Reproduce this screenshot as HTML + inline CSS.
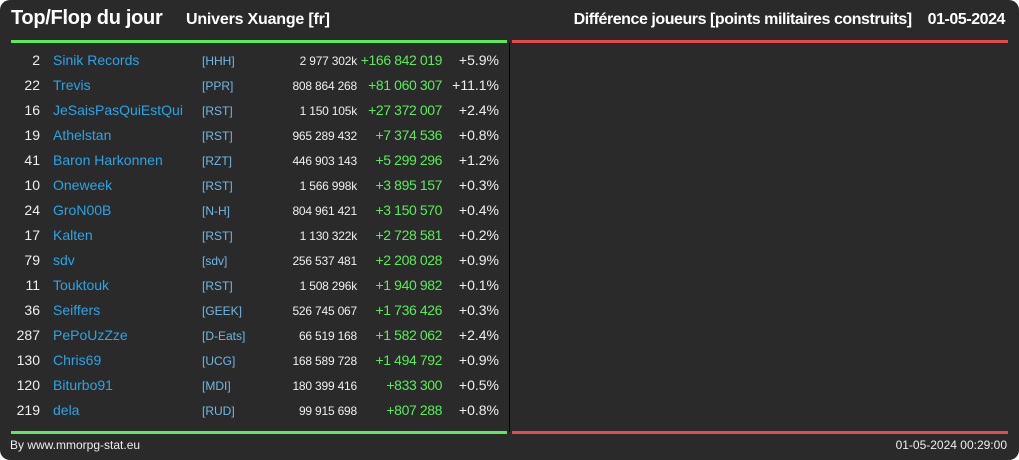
<!DOCTYPE html>
<html><head><meta charset="utf-8"><style>
html,body{margin:0;padding:0;background:#fff}
#c{position:relative;width:1019px;height:460px;background:#2a2a2a;border-radius:10px;overflow:hidden;font-family:"Liberation Sans",sans-serif;color:#eee}
.a{position:absolute;white-space:nowrap}
.r{text-align:right}
</style></head><body>
<div id="c">
<div class="a" style="left:11px;top:7px;font-size:20px;font-weight:bold;color:#fff;letter-spacing:-0.3px">Top/Flop du jour</div>
<div class="a" style="left:186px;top:11px;font-size:16px;font-weight:bold;color:#fff;letter-spacing:-0.2px">Univers Xuange [fr]</div>
<div class="a r" style="right:14px;top:11px;font-size:16px;font-weight:bold;color:#fff;letter-spacing:-0.45px">Différence joueurs [points militaires construits]&nbsp;&nbsp;&nbsp;&nbsp;01-05-2024</div>
<div class="a" style="left:11px;top:40px;width:496px;height:3px;background:#5aeb5a"></div>
<div class="a" style="left:512px;top:40px;width:496px;height:3px;background:#e64b4b"></div>
<div class="a" style="left:509px;top:43px;width:1px;height:389px;background:#000"></div>
<div class="a" style="left:11px;top:431px;width:496px;height:3px;background:#5aeb5a"></div>
<div class="a" style="left:512px;top:431px;width:496px;height:3px;background:#e64b4b"></div>
<div class="a" style="left:10px;top:438px;font-size:12px;color:#eee">By www.mmorpg-stat.eu</div>
<div class="a r" style="right:12px;top:438px;font-size:12px;color:#eee">01-05-2024 00:29:00</div>
</div>
<script>
const ranks=["2","22","16","19","41","10","24","17","79","11","36","287","130","120","219"];
const names=["Sinik Records","Trevis","JeSaisPasQuiEstQui","Athelstan","Baron Harkonnen","Oneweek","GroN00B","Kalten","sdv","Touktouk","Seiffers","PePoUzZze","Chris69","Biturbo91","dela"];
const tags=["[HHH]","[PPR]","[RST]","[RST]","[RZT]","[RST]","[N-H]","[RST]","[sdv]","[RST]","[GEEK]","[D-Eats]","[UCG]","[MDI]","[RUD]"];
const totals=["2 977 302k","808 864 268","1 150 105k","965 289 432","446 903 143","1 566 998k","804 961 421","1 130 322k","256 537 481","1 508 296k","526 745 067","66 519 168","168 589 728","180 399 416","99 915 698"];
const diffs=["+166 842 019","+81 060 307","+27 372 007","+7 374 536","+5 299 296","+3 895 157","+3 150 570","+2 728 581","+2 208 028","+1 940 982","+1 736 426","+1 582 062","+1 494 792","+833 300","+807 288"];
const pcts=["+5.9%","+11.1%","+2.4%","+0.8%","+1.2%","+0.3%","+0.4%","+0.2%","+0.9%","+0.1%","+0.3%","+2.4%","+0.9%","+0.5%","+0.8%"];
const host=document.getElementById('c');
function cell(txt,css,name){const d=document.createElement('div');d.className='a';d.style.cssText=css;d.textContent=txt;


host.appendChild(d);return d;}
ranks.forEach((r,i)=>{const y=52+i*25;
cell(r,`right:${1019-40}px;top:${y}px;font-size:14px;color:#eee;text-align:right`,'rank');
const n=cell(names[i],`left:53px;top:${y}px;font-size:14px;color:#2aa4e6`,'player-name');

cell(tags[i],`left:202px;top:${y+2}px;font-size:12px;color:#6fb8e6`,'alliance-tag');
cell(totals[i],`right:${1019-357}px;top:${y+2}px;font-size:12px;color:#eee;text-align:right;letter-spacing:-0.2px`,'total-points');
cell(diffs[i],`right:${1019-442}px;top:${y}px;font-size:14px;color:#5aeb5a;text-align:right;letter-spacing:-0.4px`,'difference');
cell(pcts[i],`right:${1019-499}px;top:${y}px;font-size:14px;color:#eee;text-align:right`,'percent-change');
});
</script>
</body></html>
